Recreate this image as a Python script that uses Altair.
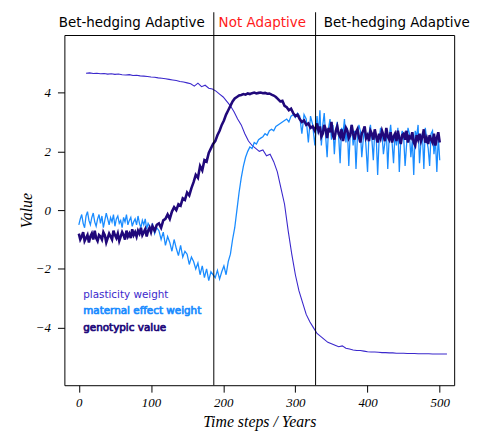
import altair as alt
import pandas as pd
import numpy as np

# ---- data ----
# early segment: t = 0..100 step 2
gen_early = [
    -0.8,-1.0,-0.9,-0.75,-1.05,-0.95,-0.85,-1.1,-0.9,-0.8,-1.0,-0.7,-0.95,-1.05,-0.85,-0.9,-1.0,-0.75,-0.85,-1.1,
    -0.95,-0.8,-0.9,-1.0,-0.7,-0.85,-0.95,-0.8,-1.05,-0.9,-0.75,-0.85,-1.0,-0.7,-0.9,-0.8,-0.95,-0.65,-0.85,-0.75,
    -0.9,-0.7,-0.8,-0.6,-0.85,-0.75,-0.65,-0.9,-0.7,-0.6,-0.75,
]
mat_early = [
    -0.5,-0.3,-0.15,-0.45,-0.6,-0.2,-0.05,-0.35,-0.5,-0.25,-0.1,-0.4,-0.55,-0.3,-0.15,-0.45,-0.2,-0.6,-0.35,-0.1,
    -0.3,-0.5,-0.25,-0.4,-0.15,-0.55,-0.3,-0.2,-0.45,-0.35,-0.6,-0.25,-0.4,-0.15,-0.5,-0.35,-0.25,-0.55,-0.4,-0.3,
    -0.5,-0.2,-0.45,-0.6,-0.35,-0.5,-0.3,-0.65,-0.45,-0.55,-0.7,
]
# middle segment: t = 102..327 step 3
gen_mid = [
    -0.55,-0.7,-0.5,-0.45,-0.6,-0.35,-0.3,-0.15,-0.3,-0.05,0.1,0.0,0.2,0.15,0.4,0.35,0.6,0.5,0.75,0.95,1.2,1.1,1.5,1.35,1.7,1.65,1.95,2.1,2.25,
    2.35,2.55,2.7,2.9,3.05,3.25,3.4,3.55,3.7,3.8,3.85,3.9,3.92,3.95,3.93,3.97,3.95,3.98,4.0,3.97,3.99,
    4.0,3.98,3.99,3.96,3.97,3.93,3.9,3.85,3.78,3.7,3.72,3.55,3.5,3.4,3.45,3.3,3.2,3.25,3.1,3.0,3.05,2.9,2.95,2.8,2.85,2.7,
]
mat_mid = [
    -0.45,-0.8,-0.6,-0.7,-1.0,-0.75,-1.2,-0.9,-1.1,-1.4,-1.0,-1.3,-1.55,-1.2,-1.6,-1.4,-1.5,-1.85,-1.6,-1.75,-2.0,-1.8,-2.2,-1.9,-2.3,-2.0,-2.4,-2.1,-2.2,
    -2.3,-2.05,-2.35,-2.1,-1.9,-2.2,-1.75,-1.5,-1.0,-0.6,0.0,0.6,1.1,1.5,1.8,2.0,2.15,2.1,2.3,2.25,2.4,
    2.45,2.5,2.6,2.55,2.7,2.75,2.7,2.85,2.9,2.95,3.0,3.05,3.1,3.0,3.2,3.25,3.15,3.3,3.2,2.6,3.25,3.1,2.3,3.2,2.9,2.2,
]
# late segment: t = 330..500 step 2
gen_late = [
    2.95,2.7,2.85,2.5,2.6,2.9,2.75,2.45,2.8,2.65,3.0,2.55,2.4,2.7,2.85,2.6,2.5,2.75,2.35,2.6,
    2.8,2.7,2.45,2.55,2.9,2.6,2.4,2.65,2.75,2.5,2.3,2.6,2.7,2.85,2.45,2.55,2.35,2.7,2.6,2.4,
    2.75,2.5,2.3,2.6,2.45,2.7,2.55,2.35,2.8,2.5,2.4,2.65,2.3,2.5,2.6,2.35,2.7,2.45,2.25,2.55,
    2.6,2.4,2.7,2.3,2.5,2.45,2.65,2.3,2.2,2.55,2.4,2.6,2.35,2.5,2.75,2.3,2.45,2.25,2.55,2.4,
    2.3,2.6,2.2,2.45,2.65,2.3,
]
mat_late = [
    3.2,2.6,3.4,2.2,2.9,3.3,2.5,1.8,2.8,3.1,2.4,2.9,1.9,2.7,3.0,2.5,1.6,2.8,2.6,3.1,
    2.3,2.8,1.5,2.6,2.9,2.2,2.7,1.4,2.5,2.9,2.7,1.8,2.4,2.8,2.1,1.3,2.6,2.9,2.4,1.7,
    2.7,2.5,1.2,2.4,2.8,2.6,1.9,2.3,2.7,1.4,2.5,2.9,2.3,1.6,2.6,2.2,2.8,1.3,2.4,2.7,
    2.5,1.5,2.2,2.8,2.6,1.8,2.4,1.2,2.7,2.5,2.9,1.6,2.3,2.6,1.4,2.8,2.4,2.1,1.5,2.6,
    2.7,1.9,2.4,1.3,2.5,1.7,
]
# plasticity weight: t = 10..510 step 5
plasticity = [
    4.66,4.67,4.65,4.66,4.64,4.65,4.63,4.64,4.62,4.63,4.61,4.6,4.61,4.58,4.59,4.57,4.56,4.55,4.53,4.52,4.5,4.49,4.47,4.45,4.43,4.41,4.38,4.36,4.33,
    4.3,4.22,4.32,4.2,4.25,4.15,4.12,
    4.05,3.95,3.85,3.7,3.55,3.35,3.1,2.9,2.6,2.35,2.2,
    2.1,2.0,2.05,1.85,1.9,1.65,1.3,0.75,0.2,-0.7,-1.5,-2.2,-2.75,-3.15,-3.55,-3.8,-4.0,-4.2,
    -4.3,-4.4,-4.5,-4.55,-4.6,-4.65,-4.62,-4.7,-4.73,-4.76,-4.78,-4.78,-4.8,-4.82,-4.83,-4.83,-4.84,-4.85,-4.85,-4.86,-4.86,-4.87,-4.87,-4.87,-4.88,-4.88,-4.88,-4.89,-4.89,-4.89,-4.89,-4.9,-4.9,-4.9,-4.9,-4.9,
]
separators = [187, 328]
x_ticks = [0, 100, 200, 300, 400, 500]
y_ticks = [-4, -2, 0, 2, 4]
series_names = ["plasticity weight", "maternal effect weight", "genotypic value"]
series_colors = ["#3b28cc", "#1a8cff", "#20087a"]
headers = ["Bet-hedging Adaptive", "Not Adaptive", "Bet-hedging Adaptive"]
header_colors = ["#000000", "#ff1a1a", "#000000"]

def times(n_early, n_mid, n_late):
    return np.concatenate([0 + 2 * np.arange(n_early), 102 + 3 * np.arange(n_mid), 330 + 2 * np.arange(n_late)])

W, H = 394, 354
xs = alt.Scale(domain=[-20, 520], nice=False, zero=False)
ys = alt.Scale(domain=[-5.96, 5.96], nice=False, zero=False)

df_g = pd.DataFrame({"t": times(len(gen_early), len(gen_mid), len(gen_late)), "v": gen_early + gen_mid + gen_late})
df_m = pd.DataFrame({"t": times(len(mat_early), len(mat_mid), len(mat_late)), "v": mat_early + mat_mid + mat_late})
df_p = pd.DataFrame({"t": 10 + 5 * np.arange(len(plasticity)), "v": plasticity})

xaxis = alt.Axis(values=x_ticks, title="Time steps / Years", grid=False, domain=False,
                 tickSize=7, tickColor="black", labelFont="Liberation Serif", labelFontStyle="italic",
                 labelFontSize=13, labelColor="black", labelPadding=5,
                 titleFont="Liberation Serif", titleFontStyle="italic", titleFontWeight="normal",
                 titleFontSize=16, titleColor="black", titleY=42, titleBaseline="alphabetic")
yaxis = alt.Axis(values=y_ticks, title="Value", grid=False, domain=False,
                 tickSize=7, tickColor="black", labelFont="Liberation Serif", labelFontStyle="italic",
                 labelFontSize=13, labelColor="black", labelPadding=7,
                 titleFont="Liberation Serif", titleFontStyle="italic", titleFontWeight="normal",
                 titleFontSize=16, titleColor="black", titleX=-38, titleY=H / 2,
                 titleAngle=-90, titleBaseline="middle", titleAlign="center")

def line(df, color, width):
    return alt.Chart(df).mark_line(color=color, strokeWidth=width, clip=True).encode(
        x=alt.X("t:Q", scale=xs, axis=xaxis),
        y=alt.Y("v:Q", scale=ys, axis=yaxis),
    )

l_p = line(df_p, series_colors[0], 1.1)
l_m = line(df_m, series_colors[1], 1.3)
l_g = line(df_g, series_colors[2], 2.6)

rules = alt.Chart(pd.DataFrame({"t": separators})).mark_rule(color="black", strokeWidth=1).encode(
    x=alt.X("t:Q", scale=xs), y=alt.value(-23), y2=alt.value(H))

hdr_df = pd.DataFrame({"label": headers, "color": header_colors, "px": [68, 200, 336]})
hdr = alt.Chart(hdr_df).mark_text(font="DejaVu Sans", fontSize=13.6, baseline="middle", align="center").encode(
    x=alt.X("px:Q", scale=None), y=alt.value(-12), text="label:N",
    color=alt.Color("color:N", scale=None))

leg_df = pd.DataFrame({"label": series_names, "color": series_colors, "py": [263, 279, 296]})
leg_n = alt.Chart(leg_df.iloc[[0]]).mark_text(font="DejaVu Sans", fontSize=10.5, align="left", baseline="middle").encode(
    x=alt.value(19), y=alt.Y("py:Q", scale=None), text="label:N", color=alt.Color("color:N", scale=None))
leg_b = alt.Chart(leg_df.iloc[[1, 2]]).mark_text(font="DejaVu Sans", fontSize=10.5, align="left", baseline="middle",
                                                  strokeWidth=0.7).encode(
    x=alt.value(19), y=alt.Y("py:Q", scale=None), text="label:N", color=alt.Color("color:N", scale=None),
    stroke=alt.Stroke("color:N", scale=None))

chart = alt.layer(l_p, l_m, l_g, rules, hdr, leg_n, leg_b).properties(
    width=W, height=H, padding={"left": 57, "top": 25, "right": 16, "bottom": 46},
    autosize=alt.AutoSizeParams(type="none"),
).configure(background="white").configure_view(stroke="black", strokeWidth=1)

chart.save("out.html", embed_options={"renderer": "svg", "actions": False})
